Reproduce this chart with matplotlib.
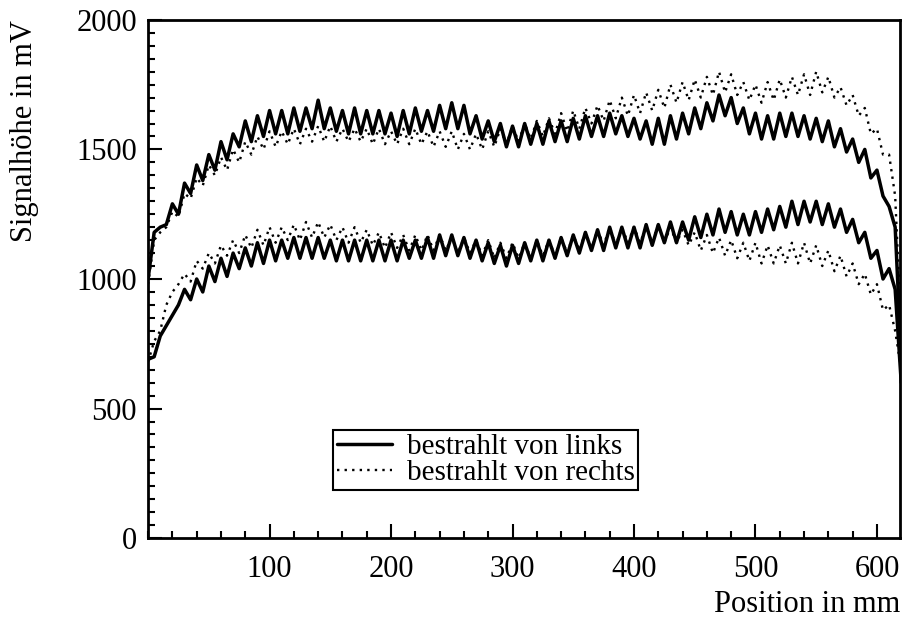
import numpy as np
import matplotlib
matplotlib.use("Agg")
import matplotlib.pyplot as plt
from matplotlib.ticker import MultipleLocator

plt.rcParams['font.family'] = ['Liberation Serif', 'DejaVu Serif']

# Position in mm (Messpunkte alle 5 mm)
position = np.arange(0, 625, 5)

# bestrahlt von links, obere Kurve
links_oben = [
    1000, 1180, 1200, 1210, 1290, 1250, 1370, 1330, 1440, 1380,
    1480, 1420, 1530, 1460, 1560, 1510, 1610, 1530, 1630, 1550,
    1650, 1560, 1650, 1560, 1660, 1570, 1660, 1580, 1690, 1580,
    1660, 1570, 1650, 1560, 1660, 1560, 1650, 1560, 1650, 1560,
    1640, 1550, 1650, 1560, 1660, 1570, 1650, 1570, 1670, 1580,
    1680, 1580, 1670, 1560, 1630, 1540, 1610, 1530, 1600, 1510,
    1590, 1510, 1600, 1520, 1600, 1520, 1610, 1530, 1610, 1530,
    1620, 1540, 1630, 1550, 1630, 1550, 1640, 1560, 1630, 1550,
    1620, 1540, 1610, 1520, 1620, 1520, 1630, 1540, 1640, 1560,
    1660, 1580, 1680, 1610, 1710, 1630, 1700, 1600, 1660, 1560,
    1640, 1540, 1630, 1540, 1640, 1550, 1640, 1550, 1630, 1540,
    1620, 1530, 1610, 1510, 1580, 1490, 1540, 1450, 1500, 1390,
    1420, 1320, 1280, 1200, 700,
]

# bestrahlt von links, untere Kurve
links_unten = [
    690, 700, 780, 820, 860, 900, 960, 920, 1000, 950,
    1050, 990, 1080, 1010, 1100, 1040, 1120, 1050, 1140, 1060,
    1150, 1070, 1150, 1080, 1160, 1080, 1160, 1080, 1160, 1080,
    1150, 1070, 1150, 1070, 1150, 1070, 1150, 1070, 1150, 1070,
    1150, 1070, 1150, 1080, 1150, 1080, 1160, 1080, 1170, 1090,
    1170, 1090, 1160, 1080, 1150, 1070, 1140, 1060, 1130, 1050,
    1130, 1060, 1140, 1070, 1150, 1070, 1150, 1080, 1160, 1090,
    1170, 1100, 1180, 1110, 1190, 1110, 1200, 1120, 1200, 1120,
    1200, 1120, 1210, 1130, 1210, 1140, 1220, 1140, 1220, 1150,
    1240, 1160, 1250, 1170, 1270, 1180, 1260, 1170, 1250, 1170,
    1260, 1180, 1270, 1190, 1280, 1200, 1300, 1210, 1300, 1220,
    1300, 1210, 1290, 1200, 1270, 1180, 1230, 1140, 1180, 1080,
    1110, 1000, 1040, 960, 600,
]

# bestrahlt von rechts, obere Kurve
rechts_oben = [
    980, 1150, 1180, 1200, 1260, 1240, 1330, 1310, 1390, 1360,
    1440, 1400, 1470, 1420, 1500, 1450, 1530, 1480, 1550, 1500,
    1570, 1510, 1570, 1520, 1580, 1520, 1580, 1530, 1590, 1530,
    1590, 1530, 1580, 1530, 1580, 1530, 1580, 1520, 1580, 1520,
    1570, 1520, 1580, 1520, 1580, 1520, 1570, 1510, 1570, 1510,
    1570, 1500, 1560, 1500, 1560, 1500, 1570, 1510, 1580, 1520,
    1590, 1530, 1600, 1540, 1610, 1550, 1620, 1560, 1640, 1570,
    1650, 1580, 1660, 1600, 1670, 1610, 1690, 1620, 1700, 1630,
    1710, 1640, 1720, 1650, 1730, 1660, 1750, 1680, 1760, 1690,
    1770, 1700, 1780, 1710, 1800, 1720, 1790, 1710, 1760, 1690,
    1750, 1680, 1760, 1690, 1770, 1700, 1780, 1710, 1790, 1710,
    1800, 1720, 1780, 1700, 1740, 1670, 1710, 1630, 1660, 1560,
    1580, 1480, 1480, 1320, 800,
]

# bestrahlt von rechts, untere Kurve
rechts_unten = [
    680, 760, 800, 900, 950, 980, 1020, 990, 1070, 1040,
    1100, 1060, 1130, 1090, 1150, 1100, 1170, 1120, 1190, 1130,
    1200, 1140, 1200, 1150, 1210, 1150, 1220, 1160, 1220, 1160,
    1210, 1150, 1200, 1140, 1200, 1140, 1190, 1130, 1180, 1120,
    1180, 1120, 1170, 1110, 1170, 1110, 1170, 1110, 1170, 1110,
    1160, 1100, 1160, 1100, 1150, 1090, 1150, 1080, 1140, 1080,
    1140, 1080, 1140, 1080, 1150, 1090, 1150, 1090, 1160, 1100,
    1170, 1110, 1180, 1120, 1190, 1130, 1200, 1130, 1200, 1140,
    1200, 1140, 1200, 1140, 1210, 1140, 1200, 1140, 1190, 1130,
    1180, 1110, 1170, 1100, 1160, 1090, 1150, 1080, 1140, 1070,
    1140, 1060, 1130, 1060, 1130, 1060, 1140, 1060, 1140, 1060,
    1130, 1050, 1110, 1030, 1090, 1010, 1060, 980, 1020, 940,
    980, 880, 900, 800, 650,
]

fig = plt.figure(figsize=(9.03, 6.2), dpi=100)
ax = fig.add_axes([0.164, 0.132, 0.8327, 0.836])

solid = dict(color='black', lw=2.5, solid_joinstyle='round',
             solid_capstyle='round')
dotted = dict(color='black', lw=1.7, linestyle=(0, (1, 2.2)))

ax.plot(position, links_oben, label='bestrahlt von links', **solid)
ax.plot(position, links_unten, **solid)
ax.plot(position, rechts_oben, label='bestrahlt von rechts', **dotted)
ax.plot(position, rechts_unten, **dotted)

ax.set_xlim(0, 619)
ax.set_ylim(0, 2000)

ax.xaxis.set_major_locator(MultipleLocator(100))
ax.xaxis.set_minor_locator(MultipleLocator(20))
ax.yaxis.set_major_locator(MultipleLocator(500))
ax.yaxis.set_minor_locator(MultipleLocator(50))
ax.set_xticks([100, 200, 300, 400, 500, 600])

ax.tick_params(which='both', direction='in', top=False, right=False,
               labelsize=22, width=1.5)
ax.tick_params(which='major', length=10)
ax.tick_params(which='minor', length=5)
ax.tick_params(axis='x', pad=12)
ax.tick_params(axis='y', pad=8)
for s in ax.spines.values():
    s.set_linewidth(2)

ax.set_xlabel('Position in mm', fontsize=22, loc='right')
ax.set_ylabel('Signalhöhe in mV', fontsize=22, loc='top')
ax.xaxis.set_label_coords(1.0, -0.1)
ax.yaxis.set_label_coords(-0.145, 1.0)

leg = ax.legend(loc='lower left', bbox_to_anchor=(0.246, 0.093),
                borderaxespad=0, fontsize=21, fancybox=False,
                frameon=True, edgecolor='black', framealpha=1,
                handlelength=1.9, handletextpad=0.5, labelspacing=0.0,
                borderpad=0.12)
leg.get_frame().set_linewidth(1.5)

fig.savefig('out.png', dpi=100)
